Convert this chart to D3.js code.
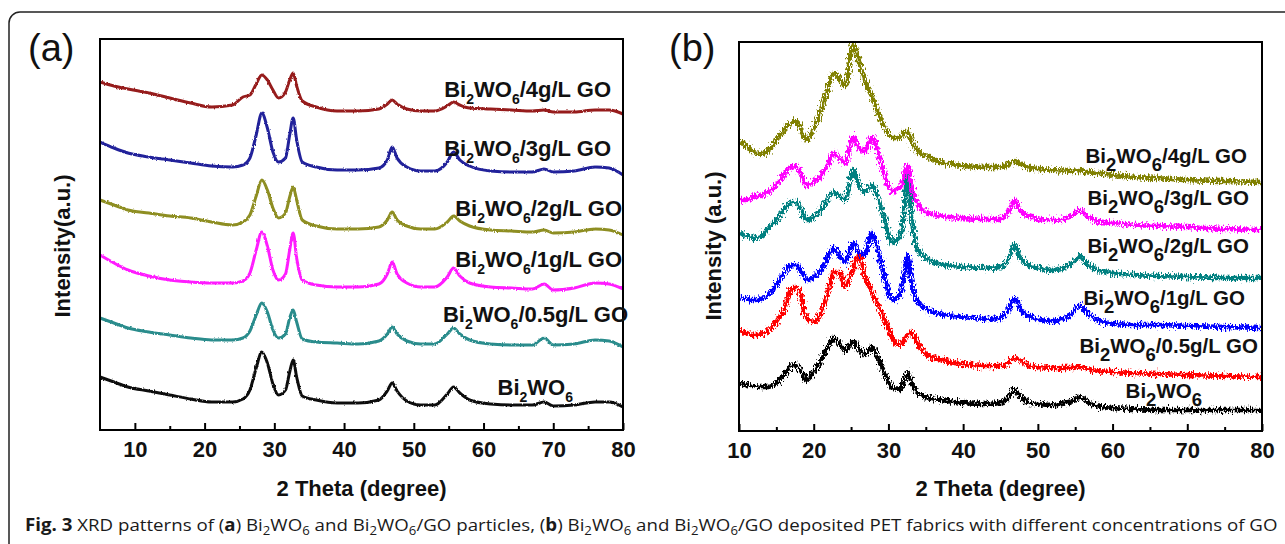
<!DOCTYPE html>
<html lang="en">
<head>
<meta charset="UTF-8" />
<title>XRD patterns</title>
<script src="https://cdn.jsdelivr.net/npm/d3@7"></script>
<style>
  body { margin: 0; background: #fff; }
  svg text { font-family: "Liberation Sans", Arial, sans-serif; }
</style>
</head>
<body>
<div id="chart"></div>
<script>
// ---------- data ----------
const xTicks = [10, 20, 30, 40, 50, 60, 70, 80];
const xMinor = [15, 25, 35, 45, 55, 65, 75];
const subNames = ["", "/0.5g/L GO", "/1g/L GO", "/2g/L GO", "/3g/L GO", "/4g/L GO"];

// panel (a): particles
const thetaA = [5, 7, 9, 12, 15, 18, 21, 24, 25.5, 26.5, 27.4, 28.2, 29.0, 29.8, 30.6, 31.6, 32.2, 32.7, 33.2, 34,
  36, 39, 42, 45, 46.2, 46.9, 47.6, 49, 51, 53, 54.8, 55.7, 56.6, 58, 61, 64, 67, 68.7, 70, 73, 76, 78, 80];
const aBi  = [53, 48, 43, 39, 35, 31, 28, 28, 31, 40, 62, 78, 67, 46, 35, 40, 58, 70, 53, 34,
  30, 27, 27, 30, 39, 47, 39, 29, 25, 25, 36, 43, 37, 30, 26, 25, 25, 28, 24, 25, 28, 28, 23];
const aGO05 = [112, 107, 102, 98, 95, 92, 90, 90, 92, 99, 115, 127, 118, 100, 92, 96, 112, 120, 108, 91,
  88, 87, 86, 89, 96, 103, 96, 89, 86, 86, 96, 102, 96, 90, 86, 85, 85, 92, 85, 86, 90, 89, 83];
const aGO1 = [175, 167, 160, 154, 150, 148, 147, 147, 149, 157, 180, 198, 184, 160, 150, 156, 180, 197, 172, 150,
  145, 143, 143, 146, 156, 168, 156, 147, 143, 143, 153, 162, 154, 147, 143, 142, 141, 146, 140, 142, 147, 146, 141];
const aGO2 = [230, 225, 220, 217, 214, 212, 208, 205, 208, 215, 234, 250, 240, 222, 212, 217, 233, 243, 230, 210,
  204, 201, 201, 203, 210, 218, 210, 204, 201, 201, 208, 214, 209, 204, 200, 199, 198, 200, 197, 198, 201, 200, 195];
const aGO3 = [288, 282, 277, 273, 270, 267, 264, 263, 265, 272, 295, 317, 302, 278, 268, 272, 295, 312, 290, 268,
  263, 260, 260, 262, 270, 283, 272, 263, 259, 259, 268, 278, 270, 264, 259, 258, 258, 261, 258, 259, 263, 262, 255];
const aGO4 = [348, 344, 341, 337, 332, 327, 323, 325, 333, 335, 346, 355, 350, 340, 332, 338, 350, 357, 344, 329,
  323, 319, 319, 321, 326, 330, 326, 321, 319, 319, 324, 328, 325, 322, 321, 320, 319, 320, 318, 318, 320, 320, 316];

// panel (b): PET fabrics
const thetaB = [10, 11, 12, 13, 14, 15, 16, 16.8, 17.5, 18.2, 19, 20, 21, 22, 22.7, 23.4, 24.2, 25.3, 26, 26.8,
  27.8, 28.6, 29.5, 30.5, 31.5, 32.1, 32.6, 33.1, 33.8, 35, 37, 40, 43, 45, 46.2, 46.9, 47.6, 49, 52, 54.5,
  55.6, 56.6, 58, 60, 63, 66, 70, 75, 80];
const bBi  = [48, 46, 45, 44, 44, 48, 56, 64, 66, 61, 51, 59, 71, 86, 93, 88, 81, 89, 83, 76,
  84, 73, 58, 43, 41, 51, 58, 48, 39, 34, 31, 28, 27, 28, 35, 41, 35, 28, 26, 30,
  34, 29, 25, 23, 22, 21, 21, 21, 21];
const bGO05 = [101, 98, 96, 97, 101, 109, 121, 139, 144, 138, 113, 109, 119, 141, 159, 159, 144, 163, 176, 156,
  139, 126, 111, 93, 86, 91, 96, 99, 89, 77, 71, 67, 65, 65, 69, 73, 71, 65, 63, 63,
  64, 62, 60, 59, 58, 57, 56, 55, 54];
const bGO1 = [133, 132, 131, 132, 137, 146, 158, 165, 166, 161, 151, 154, 161, 176, 183, 176, 169, 188, 179, 176,
  198, 181, 153, 131, 135, 156, 176, 149, 131, 122, 117, 114, 112, 113, 123, 133, 123, 114, 110, 117,
  126, 118, 111, 107, 106, 106, 105, 104, 103];
const bGO2 = [198, 195, 193, 195, 203, 211, 221, 228, 229, 223, 211, 214, 221, 233, 239, 235, 231, 261, 248, 239,
  246, 233, 211, 189, 193, 221, 259, 216, 183, 173, 167, 164, 163, 164, 174, 186, 174, 165, 161, 167,
  175, 167, 161, 158, 156, 155, 154, 153, 153];
const bGO3 = [231, 231, 234, 236, 239, 246, 256, 263, 265, 259, 246, 249, 256, 268, 278, 273, 268, 294, 283, 279,
  294, 279, 256, 239, 243, 256, 266, 246, 229, 219, 215, 213, 212, 212, 221, 231, 221, 214, 211, 215,
  221, 215, 210, 208, 206, 205, 204, 202, 201];
const bGO4 = [291, 285, 279, 277, 281, 291, 301, 307, 310, 303, 291, 303, 321, 346, 358, 353, 345, 386, 371, 351,
  334, 319, 304, 293, 293, 299, 299, 291, 281, 275, 269, 265, 264, 264, 267, 270, 267, 263, 261, 260,
  261, 259, 258, 256, 254, 253, 251, 250, 249];

// ---------- layout / style ----------
const W = 1285, H = 544;
const panels = [
  { tag: "(a)", tagX: 28, left: 100, right: 623, top: 39, bottom: 430, xDomain: [5, 80], yMax: 391,
    theta: thetaA, series: [aBi, aGO05, aGO1, aGO2, aGO3, aGO4],
    colors: ["#111111", "#2a8c8c", "#ff1aff", "#8e8e22", "#20209a", "#961c1c"],
    labelPos: [[573, 395], [628, 322], [622, 267], [622, 216], [611, 156], [611, 97]],
    labelSize: 22, subSize: 14, subDy: 7, yTitle: "Intensity(a.u.)", yTitleX: 62,
    stroke: 3, jitter: 2.5, freq: "0.9 0.35" },
  { tag: "(b)", tagX: 669, left: 739, right: 1262, top: 42, bottom: 431, xDomain: [10, 80], yMax: 389,
    theta: thetaB, series: [bBi, bGO05, bGO1, bGO2, bGO3, bGO4],
    colors: ["#000000", "#ff0000", "#0000ff", "#008080", "#ff00ff", "#808000"],
    labelPos: [[1202, 398], [1258, 353], [1245, 305], [1249, 253], [1249, 205], [1247, 163]],
    labelSize: 20.5, subSize: 18.5, subDy: 8, yTitle: "Intensity (a.u.)", yTitleX: 713,
    stroke: 4.6, jitter: 10, freq: "0.75 0.3" }
];

const svg = d3.select("#chart").append("svg")
  .attr("width", W).attr("height", H);

const defs = svg.append("defs");

// outer frame of the figure
svg.append("rect")
  .attr("x", 9).attr("y", 12)
  .attr("width", 1300).attr("height", 560)
  .attr("rx", 11)
  .attr("fill", "none").attr("stroke", "#222").attr("stroke-width", 1.5);

panels.forEach((p, pi) => {
  const x = d3.scaleLinear().domain(p.xDomain).range([p.left, p.right]);
  const y = d3.scaleLinear().domain([0, p.yMax]).range([p.bottom, p.top]);

  // texture filter for the noisy traces
  const f = defs.append("filter").attr("id", "noise" + pi)
    .attr("filterUnits", "userSpaceOnUse")
    .attr("x", p.left - 10).attr("y", p.top - 10)
    .attr("width", p.right - p.left + 20).attr("height", p.bottom - p.top + 20);
  f.append("feTurbulence").attr("type", "fractalNoise")
    .attr("baseFrequency", p.freq).attr("numOctaves", 2).attr("seed", 4 + pi)
    .attr("result", "n");
  f.append("feDisplacementMap").attr("in", "SourceGraphic").attr("in2", "n")
    .attr("scale", p.jitter).attr("xChannelSelector", "R").attr("yChannelSelector", "G");

  const clip = defs.append("clipPath").attr("id", "clip" + pi);
  clip.append("rect").attr("x", p.left).attr("y", p.top - 2)
    .attr("width", p.right - p.left).attr("height", p.bottom - p.top + 2);

  const line = d3.line()
    .defined(d => d[1] != null)
    .x(d => x(d[0])).y(d => y(d[1]))
    .curve(d3.curveMonotoneX);

  const g = svg.append("g").attr("clip-path", `url(#clip${pi})`)
    .append("g").attr("filter", `url(#noise${pi})`);

  g.selectAll("path")
    .data(p.series)
    .enter().append("path")
    .attr("d", s => line(p.theta.map((t, i) => [t, s[i]])))
    .attr("fill", "none")
    .attr("stroke", (s, i) => p.colors[i])
    .attr("stroke-width", p.stroke)
    .attr("stroke-linejoin", "round");

  // axes: major ticks inward, minor ticks inward
  const axis = svg.append("g")
    .attr("transform", `translate(0,${p.bottom})`)
    .call(d3.axisBottom(x).tickValues(xTicks).tickSizeInner(-7).tickSizeOuter(0).tickPadding(11));
  axis.select(".domain").remove();
  axis.selectAll(".tick line").attr("stroke", "#000").attr("stroke-width", 2);
  axis.selectAll(".tick text")
    .attr("font-size", 22).attr("font-weight", "bold").attr("fill", "#111")
    .style("font-family", '"Liberation Sans", Arial, sans-serif');

  const minor = svg.append("g")
    .attr("transform", `translate(0,${p.bottom})`)
    .call(d3.axisBottom(x).tickValues(xMinor).tickSizeInner(-4).tickSizeOuter(0).tickFormat(""));
  minor.select(".domain").remove();
  minor.selectAll(".tick line").attr("stroke", "#000").attr("stroke-width", 2);

  // frame
  svg.append("rect")
    .attr("x", p.left).attr("y", p.top)
    .attr("width", p.right - p.left).attr("height", p.bottom - p.top)
    .attr("fill", "none").attr("stroke", "#000").attr("stroke-width", 2);

  // titles
  svg.append("text")
    .attr("x", (p.left + p.right) / 2).attr("y", 496)
    .attr("text-anchor", "middle")
    .attr("font-size", 22).attr("font-weight", "bold").attr("fill", "#111")
    .text("2 Theta (degree)");

  svg.append("text")
    .attr("transform", `translate(${p.yTitleX},246) rotate(-90)`)
    .attr("text-anchor", "middle").attr("dy", "0.35em")
    .attr("font-size", 22).attr("font-weight", "bold").attr("fill", "#111")
    .text(p.yTitle);

  svg.append("text")
    .attr("x", p.tagX).attr("y", 61)
    .attr("font-size", 38).attr("fill", "#111")
    .text(p.tag);

  // series labels  Bi2WO6/...
  subNames.forEach((nm, i) => {
    const t = svg.append("text")
      .attr("x", p.labelPos[i][0]).attr("y", p.labelPos[i][1])
      .attr("text-anchor", "end")
      .attr("font-size", p.labelSize).attr("font-weight", "bold").attr("fill", "#111");
    t.append("tspan").text("Bi");
    t.append("tspan").attr("font-size", p.subSize).attr("dy", p.subDy).text("2");
    t.append("tspan").attr("dy", -p.subDy).text("WO");
    t.append("tspan").attr("font-size", p.subSize).attr("dy", p.subDy).text("6");
    if (nm) t.append("tspan").attr("dy", -p.subDy).text(nm);
  });
});

// caption
const cap = svg.append("text")
  .attr("font-size", 17).attr("fill", "#1a1a1a")
  .style("font-family", '"Open Sans", "Noto Sans", sans-serif');
const capParts = [
  ["Fig. 3", "b"], [" XRD patterns of (", ""], ["a", "b"], [") Bi", ""], ["2", "s"], ["WO", ""], ["6", "s"],
  [" and Bi", ""], ["2", "s"], ["WO", ""], ["6", "s"], ["/GO particles, (", ""], ["b", "b"], [") Bi", ""],
  ["2", "s"], ["WO", ""], ["6", "s"], [" and Bi", ""], ["2", "s"], ["WO", ""], ["6", "s"],
  ["/GO deposited PET fabrics with different concentrations of GO", ""]
];
let down = false;
capParts.forEach(([txt, kind]) => {
  const ts = cap.append("tspan").text(txt);
  if (kind === "b") ts.attr("font-weight", "bold");
  if (kind === "s") { ts.attr("font-size", 12).attr("dy", down ? 0 : 4); down = true; }
  else if (down) { ts.attr("dy", -4); down = false; }
});
const capW = cap.node().getComputedTextLength();
cap.attr("transform", `translate(25,531) scale(${1253 / capW},1)`);
</script>
</body>
</html>
